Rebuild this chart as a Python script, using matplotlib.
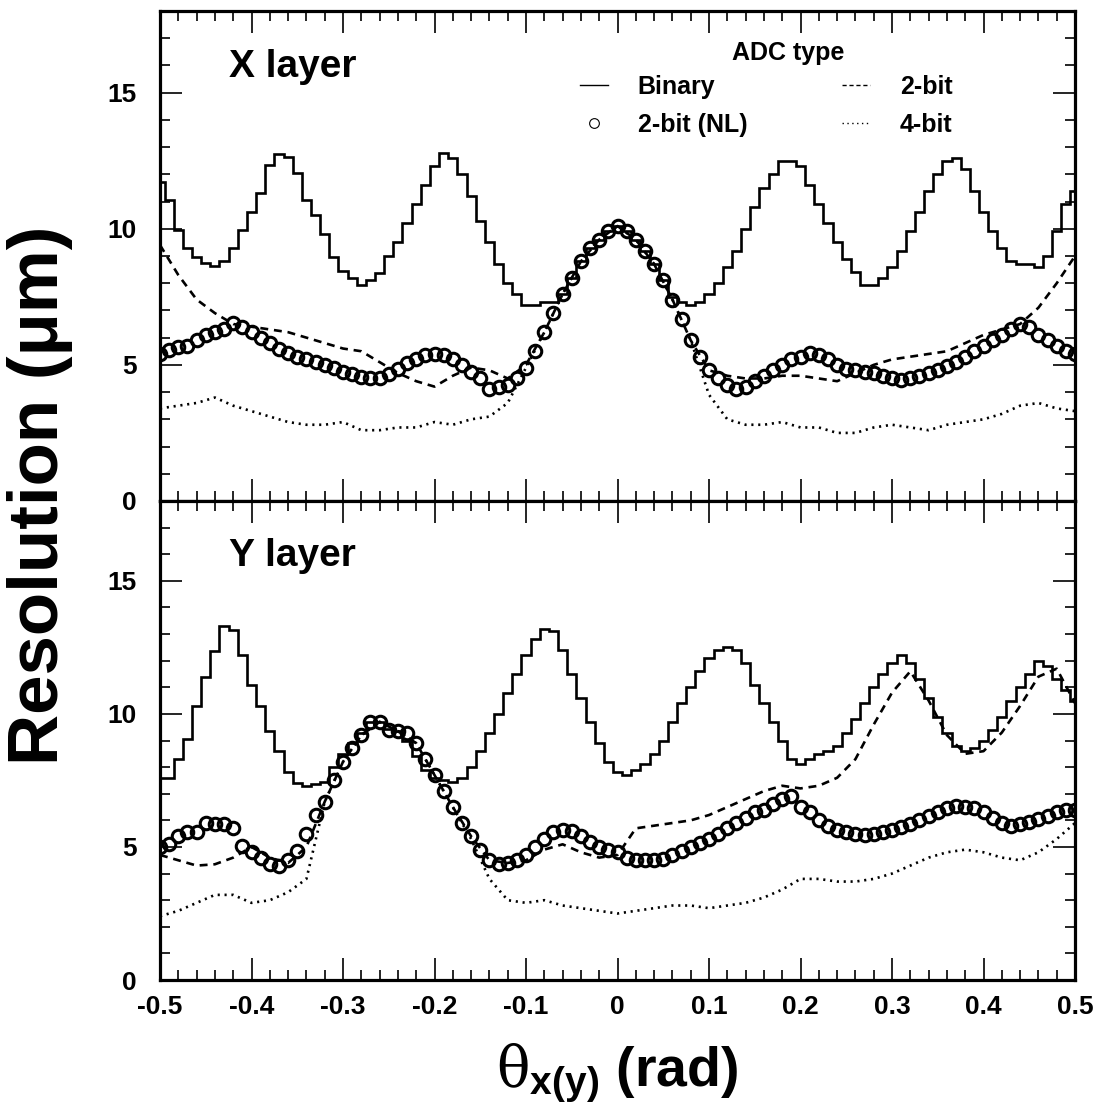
import numpy as np
import matplotlib
matplotlib.use("Agg")
import matplotlib.pyplot as plt
from matplotlib.lines import Line2D
from matplotlib.ticker import MultipleLocator

plt.rcParams['font.family'] = ['Liberation Sans', 'DejaVu Sans']
plt.rcParams['font.weight'] = 'bold'
plt.rcParams['mathtext.fontset'] = 'custom'
plt.rcParams['mathtext.rm'] = 'DejaVu Serif:weight=normal'
plt.rcParams['mathtext.bf'] = 'Liberation Sans:bold'
plt.rcParams['mathtext.it'] = 'DejaVu Serif:weight=normal'

# angle bins (0.01 rad) for binary histogram and 2-bit (NL) points
theta = np.round(np.arange(-50, 51) / 100, 2)
# coarser grid used for the 2-bit and 4-bit curves
theta2 = np.round(np.arange(-25, 26) / 50, 2)

# ---------------- X layer ----------------
x_binary = [11.7, 11.06, 9.96, 9.3, 8.97, 8.75, 8.64, 8.8, 9.3, 9.96,
            10.6, 11.3, 12.35, 12.76, 12.65, 12.05, 11.06, 10.5, 9.8, 8.97,
            8.43, 8.2, 7.94, 8.1, 8.37, 9.0, 9.5, 10.2, 10.9, 11.6,
            12.3, 12.8, 12.6, 12.0, 11.2, 10.3, 9.5, 8.7, 8.0, 7.6,
            7.2, 7.2, 7.3, 7.3, 7.6, 8.2, 8.8, 9.3, 9.6, 9.9,
            10.1,
            9.9, 9.6, 9.2, 8.7, 8.1, 7.5, 7.3, 7.2, 7.3, 7.6,
            8.0, 8.6, 9.2, 10.0, 10.8, 11.5, 12.0, 12.5, 12.5, 12.3,
            11.6, 10.9, 10.2, 9.5, 8.9, 8.4, 7.95, 7.95, 8.2, 8.6,
            9.2, 9.9, 10.6, 11.4, 12.0, 12.5, 12.6, 12.2, 11.4, 10.6,
            9.9, 9.3, 8.8, 8.7, 8.7, 8.6, 9.0, 9.9, 10.9, 11.4]
x_nl = [5.4, 5.55, 5.65, 5.7, 5.9, 6.1, 6.2, 6.3, 6.55, 6.4,
        6.2, 6.0, 5.8, 5.6, 5.45, 5.3, 5.2, 5.1, 5.0, 4.9,
        4.75, 4.65, 4.55, 4.5, 4.5, 4.65, 4.85, 5.05, 5.2, 5.35,
        5.4, 5.35, 5.2, 5.0, 4.75, 4.5, 4.1, 4.2, 4.25, 4.5,
        4.9, 5.5, 6.2, 6.9, 7.6, 8.2, 8.8, 9.3, 9.6, 9.9,
        10.1,
        9.9, 9.6, 9.2, 8.7, 8.1, 7.4, 6.7, 5.9, 5.3, 4.8,
        4.5, 4.25, 4.1, 4.2, 4.4, 4.6, 4.8, 5.0, 5.2, 5.3,
        5.45, 5.35, 5.2, 5.0, 4.85, 4.8, 4.75, 4.7, 4.6, 4.5,
        4.45, 4.5, 4.6, 4.7, 4.8, 4.95, 5.1, 5.3, 5.5, 5.7,
        5.9, 6.1, 6.3, 6.5, 6.4, 6.1, 5.9, 5.7, 5.5, 5.4]
x_2bit = [9.4, 8.3, 7.4, 6.9, 6.5, 6.4, 6.3, 6.2, 6.0, 5.8,
          5.6, 5.5, 5.1, 4.7, 4.4, 4.2, 4.6, 4.9, 4.8, 4.5,
          5.0, 6.2, 7.6, 8.8, 9.6, 10.1, 9.6, 8.7, 7.4, 5.9,
          4.8, 4.6, 4.5, 4.5, 4.6, 4.6, 4.5, 4.4, 4.7, 5.0,
          5.2, 5.3, 5.4, 5.5, 5.8, 6.1, 6.3, 6.5, 7.1, 8.0, 9.0]
x_4bit = [3.4, 3.5, 3.6, 3.8, 3.5, 3.3, 3.1, 2.9, 2.8, 2.8,
          2.9, 2.6, 2.6, 2.7, 2.7, 2.9, 2.8, 3.0, 3.1, 3.6,
          4.9, 6.2, 7.6, 8.8, 9.6, 10.1, 9.6, 8.7, 7.4, 5.9,
          3.9, 3.0, 2.8, 2.8, 2.9, 2.7, 2.7, 2.5, 2.5, 2.7,
          2.8, 2.7, 2.6, 2.8, 2.9, 3.0, 3.2, 3.5, 3.6, 3.4, 3.3]

# ---------------- Y layer ----------------
y_binary = [7.6, 7.6, 8.3, 9.05, 10.3, 11.4, 12.35, 13.3, 13.15, 12.2,
            11.1, 10.3, 9.35, 8.6, 7.8, 7.4, 7.3, 7.35, 7.45, 8.0,
            8.5, 8.9, 9.3, 9.7, 9.7, 9.45, 9.35, 9.0, 8.4, 7.9,
            7.6, 7.5, 7.45, 7.6, 8.0, 8.6, 9.3, 10.0, 10.8, 11.5,
            12.2, 12.8, 13.2, 13.1, 12.4, 11.5, 10.6, 9.7, 8.9, 8.2,
            7.8,
            7.7, 7.9, 8.1, 8.5, 9.0, 9.7, 10.4, 11.0, 11.6, 12.1,
            12.4, 12.5, 12.4, 11.9, 11.1, 10.4, 9.7, 9.0, 8.3, 8.1,
            8.3, 8.5, 8.6, 8.8, 9.3, 9.8, 10.4, 11.0, 11.5, 11.9,
            12.2, 11.9, 11.3, 10.6, 9.9, 9.3, 8.8, 8.6, 8.7, 9.0,
            9.4, 9.9, 10.5, 11.0, 11.5, 12.0, 11.8, 11.3, 10.9, 10.5]
y_nl = [5.0, 5.1, 5.4, 5.55, 5.55, 5.9, 5.85, 5.85, 5.7, 5.05,
        4.8, 4.6, 4.35, 4.3, 4.5, 4.85, 5.5, 6.2, 6.7, 7.5,
        8.2, 8.7, 9.2, 9.7, 9.7, 9.4, 9.35, 9.3, 8.9, 8.3,
        7.7, 7.1, 6.5, 5.9, 5.4, 4.9, 4.5, 4.35, 4.4, 4.5,
        4.7, 5.0, 5.3, 5.55, 5.65, 5.6, 5.4, 5.2, 5.0, 4.9,
        4.8,
        4.6, 4.5, 4.5, 4.5, 4.55, 4.7, 4.85, 5.0, 5.15, 5.3,
        5.5, 5.7, 5.9, 6.1, 6.3, 6.4, 6.6, 6.8, 6.9, 6.5,
        6.3, 6.0, 5.8, 5.65, 5.55, 5.5, 5.45, 5.5, 5.55, 5.65,
        5.75, 5.85, 6.0, 6.15, 6.3, 6.45, 6.55, 6.5, 6.45, 6.3,
        6.1, 5.9, 5.8, 5.85, 5.95, 6.05, 6.15, 6.3, 6.4, 6.4]
y_2bit = [4.7, 4.5, 4.3, 4.35, 4.6, 5.0, 4.6, 4.4, 5.0, 6.7,
          8.2, 9.2, 9.7, 9.35, 8.9, 7.7, 6.5, 5.4, 4.5, 4.4,
          4.5, 4.9, 5.1, 4.8, 4.6, 4.7, 5.7, 5.8, 5.9, 6.0,
          6.2, 6.5, 6.8, 7.1, 7.3, 7.2, 7.3, 7.6, 8.3, 9.6,
          10.8, 11.6, 10.5, 9.2, 8.5, 8.6, 9.3, 10.3, 11.4, 11.7, 10.4]
y_4bit = [2.4, 2.6, 2.9, 3.2, 3.2, 2.9, 3.0, 3.3, 3.8, 6.7,
          8.2, 9.2, 9.7, 9.35, 8.9, 7.7, 6.5, 5.3, 3.8, 3.0,
          2.9, 3.0, 2.8, 2.7, 2.6, 2.5, 2.6, 2.7, 2.8, 2.8,
          2.7, 2.8, 2.9, 3.1, 3.4, 3.8, 3.8, 3.7, 3.7, 3.8,
          4.0, 4.3, 4.6, 4.8, 4.9, 4.8, 4.6, 4.5, 4.8, 5.3, 5.9]

edges = np.append(theta - 0.005, theta[-1] + 0.005)

fig = plt.figure(figsize=(10.99, 11.18), dpi=100)
ax1 = fig.add_axes([0.1456, 0.5519, 0.8326, 0.4383])
ax2 = fig.add_axes([0.1456, 0.1234, 0.8326, 0.4285])

lw = 1.9
dash = (0, (3.0, 2.2))
dot = (0, (0.8, 1.8))

panels = [(ax1, 'X layer', x_binary, x_nl, x_2bit, x_4bit),
          (ax2, 'Y layer', y_binary, y_nl, y_2bit, y_4bit)]
for ax, name, binary, nl, bit2, bit4 in panels:
    ax.plot(theta2, bit4, color='k', lw=lw, linestyle=dot)
    ax.plot(theta2, bit2, color='k', lw=lw, linestyle=dash)
    ax.stairs(binary, edges, color='k', lw=lw, baseline=None)
    ax.plot(theta, nl, 'o', mfc='none', mec='k', ms=9, mew=2.2)

    ax.set_xlim(-0.5, 0.5)
    ax.set_ylim(0, 18)
    ax.yaxis.set_major_locator(MultipleLocator(5))
    ax.yaxis.set_minor_locator(MultipleLocator(1))
    ax.xaxis.set_major_locator(MultipleLocator(0.1))
    ax.xaxis.set_minor_locator(MultipleLocator(0.02))
    ax.tick_params(which='both', direction='in', top=True, right=True,
                   labelsize=19, width=1.2)
    ax.tick_params(which='major', length=16)
    ax.tick_params(which='minor', length=7)
    ax.tick_params(axis='y', pad=17)
    ax.tick_params(axis='x', pad=11)
    for s in ax.spines.values():
        s.set_linewidth(2.3)
    ax.text(0.075, 0.885, name, transform=ax.transAxes, fontsize=28,
            fontweight='bold', ha='left', va='center')

ax1.tick_params(labelbottom=False)
ax2.set_xticks(np.round(np.arange(-5, 6) / 10, 1))
ax2.set_xticklabels(['-0.5', '-0.4', '-0.3', '-0.2', '-0.1', '0',
                     '0.1', '0.2', '0.3', '0.4', '0.5'])
ax1.set_yticks([0, 5, 10, 15])
ax2.set_yticks([0, 5, 10, 15])

handles = [Line2D([], [], color='k', lw=1.0),
           Line2D([], [], ls='none', marker='o', mfc='none', mec='k',
                  ms=7, mew=0.8),
           Line2D([], [], color='k', lw=1.0, linestyle=(0, (3, 2))),
           Line2D([], [], color='k', lw=1.0, linestyle=(0, (1, 2.5)))]
labels = ['Binary', '2-bit (NL)', '2-bit', '4-bit']
leg = ax1.legend(handles, labels, ncol=2, loc='upper left',
                 bbox_to_anchor=(0.44, 0.905), frameon=False,
                 fontsize=18, handlelength=1.1, handletextpad=1.2,
                 columnspacing=3.8, labelspacing=0.55, borderpad=0.2)
for t in leg.get_texts():
    t.set_fontweight('bold')
ax1.text(0.686, 0.914, 'ADC type', transform=ax1.transAxes, fontsize=18,
         fontweight='bold', ha='center', va='center')

fig.text(0.036, 0.557, 'Resolution (\u03bcm)', rotation=90, fontsize=51,
         fontweight='bold', ha='center', va='center')
fig.text(0.562, 0.04, r'$\mathrm{\theta}_{\mathbf{x(y)}}$ (rad)', fontsize=40,
         fontweight='bold', ha='center', va='center')

fig.savefig('out.png', dpi=100)
